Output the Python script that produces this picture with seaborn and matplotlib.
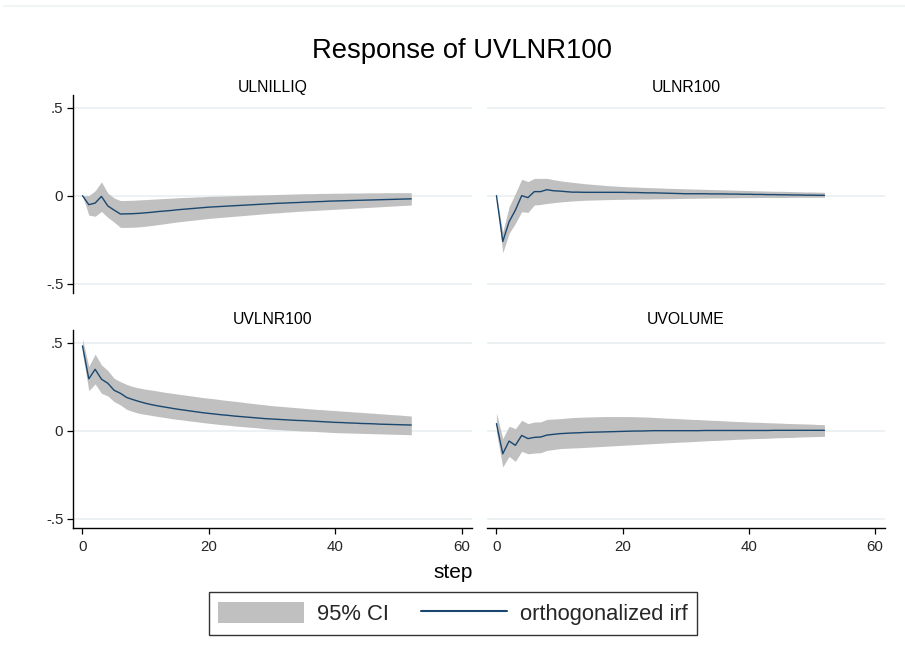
import numpy as np
import pandas as pd
import matplotlib
matplotlib.use("Agg")
import matplotlib.pyplot as plt
from matplotlib.patches import Patch
from matplotlib.lines import Line2D
import seaborn as sns

# ---- data: orthogonalized impulse responses of UVLNR100, steps 0..52 ----
steps = list(range(53))
impulses = ["ULNILLIQ", "ULNR100", "UVLNR100", "UVOLUME"]

irf_ulnilliq = [0.000, -0.051, -0.042, -0.004, -0.058, -0.082, -0.104, -0.103, -0.102, -0.100,
                -0.097, -0.094, -0.090, -0.087, -0.084, -0.080, -0.077, -0.074, -0.071, -0.068,
                -0.065, -0.063, -0.061, -0.059, -0.057, -0.055, -0.053, -0.051, -0.049, -0.047,
                -0.045, -0.043, -0.042, -0.040, -0.039, -0.037, -0.036, -0.034, -0.033, -0.031,
                -0.030, -0.029, -0.028, -0.027, -0.026, -0.025, -0.024, -0.023, -0.022, -0.021,
                -0.020, -0.019, -0.018]
hi_ulnilliq = [0.000, 0.000, 0.028, 0.078, 0.015, -0.013, -0.028, -0.027, -0.026, -0.024,
               -0.022, -0.020, -0.018, -0.016, -0.014, -0.012, -0.010, -0.009, -0.007, -0.006,
               -0.004, -0.003, -0.002, -0.001, 0.000, 0.001, 0.002, 0.003, 0.004, 0.005,
               0.006, 0.007, 0.008, 0.009, 0.010, 0.011, 0.011, 0.012, 0.013, 0.013,
               0.014, 0.014, 0.015, 0.015, 0.015, 0.016, 0.016, 0.016, 0.017, 0.017,
               0.017, 0.017, 0.017]
lo_ulnilliq = [0.000, -0.110, -0.117, -0.089, -0.123, -0.150, -0.180, -0.180, -0.179, -0.177,
               -0.173, -0.169, -0.164, -0.159, -0.154, -0.149, -0.145, -0.141, -0.137, -0.133,
               -0.129, -0.126, -0.123, -0.120, -0.117, -0.114, -0.111, -0.108, -0.105, -0.102,
               -0.099, -0.097, -0.094, -0.092, -0.089, -0.087, -0.085, -0.083, -0.081, -0.079,
               -0.077, -0.075, -0.073, -0.071, -0.069, -0.067, -0.065, -0.063, -0.061, -0.059,
               -0.057, -0.055, -0.053]

irf_ulnr100 = [0.000, -0.260, -0.148, -0.082, 0.000, -0.011, 0.023, 0.023, 0.034, 0.028,
               0.026, 0.023, 0.020, 0.020, 0.019, 0.019, 0.019, 0.019, 0.019, 0.019,
               0.019, 0.018, 0.018, 0.017, 0.016, 0.016, 0.015, 0.014, 0.013, 0.012,
               0.011, 0.011, 0.011, 0.011, 0.010, 0.010, 0.010, 0.009, 0.009, 0.008,
               0.008, 0.007, 0.007, 0.006, 0.006, 0.005, 0.005, 0.004, 0.004, 0.003,
               0.003, 0.002, 0.002]
hi_ulnr100 = [0.000, -0.205, -0.063, 0.013, 0.093, 0.080, 0.098, 0.098, 0.098, 0.091,
              0.085, 0.080, 0.076, 0.072, 0.068, 0.065, 0.062, 0.059, 0.056, 0.054,
              0.052, 0.050, 0.049, 0.047, 0.046, 0.045, 0.044, 0.042, 0.041, 0.040,
              0.039, 0.038, 0.037, 0.036, 0.035, 0.034, 0.033, 0.032, 0.031, 0.030,
              0.029, 0.028, 0.027, 0.026, 0.025, 0.025, 0.024, 0.023, 0.022, 0.021,
              0.021, 0.020, 0.019]
lo_ulnr100 = [0.000, -0.324, -0.214, -0.157, -0.091, -0.095, -0.053, -0.050, -0.044, -0.040,
              -0.036, -0.033, -0.030, -0.028, -0.026, -0.025, -0.024, -0.023, -0.022, -0.021,
              -0.021, -0.020, -0.020, -0.019, -0.019, -0.018, -0.018, -0.017, -0.017, -0.016,
              -0.015, -0.015, -0.014, -0.014, -0.013, -0.013, -0.013, -0.012, -0.012, -0.011,
              -0.011, -0.011, -0.010, -0.010, -0.010, -0.010, -0.010, -0.009, -0.009, -0.009,
              -0.009, -0.009, -0.009]

irf_uvlnr100 = [0.481, 0.294, 0.348, 0.292, 0.269, 0.229, 0.212, 0.188, 0.176, 0.165,
                0.155, 0.147, 0.140, 0.134, 0.128, 0.122, 0.117, 0.112, 0.107, 0.102,
                0.098, 0.094, 0.090, 0.087, 0.083, 0.080, 0.077, 0.074, 0.071, 0.068,
                0.066, 0.064, 0.062, 0.060, 0.058, 0.057, 0.055, 0.053, 0.051, 0.049,
                0.047, 0.046, 0.044, 0.043, 0.041, 0.040, 0.039, 0.037, 0.036, 0.035,
                0.034, 0.033, 0.032]
hi_uvlnr100 = [0.521, 0.364, 0.434, 0.373, 0.341, 0.297, 0.278, 0.262, 0.250, 0.242,
               0.235, 0.230, 0.224, 0.218, 0.213, 0.208, 0.203, 0.198, 0.193, 0.188,
               0.184, 0.180, 0.175, 0.171, 0.167, 0.163, 0.158, 0.154, 0.150, 0.146,
               0.142, 0.139, 0.136, 0.133, 0.130, 0.127, 0.124, 0.121, 0.119, 0.116,
               0.114, 0.111, 0.109, 0.106, 0.104, 0.101, 0.099, 0.096, 0.094, 0.091,
               0.089, 0.086, 0.083]
lo_uvlnr100 = [0.441, 0.227, 0.265, 0.212, 0.197, 0.165, 0.146, 0.121, 0.108, 0.098,
               0.092, 0.086, 0.080, 0.075, 0.069, 0.064, 0.060, 0.055, 0.051, 0.046,
               0.042, 0.038, 0.034, 0.031, 0.027, 0.024, 0.021, 0.018, 0.015, 0.011,
               0.008, 0.006, 0.004, 0.002, 0.000, -0.002, -0.003, -0.005, -0.007, -0.009,
               -0.011, -0.012, -0.013, -0.014, -0.015, -0.016, -0.017, -0.018, -0.019, -0.020,
               -0.021, -0.022, -0.023]

irf_uvolume = [0.040, -0.131, -0.059, -0.083, -0.027, -0.045, -0.038, -0.036, -0.025, -0.021,
               -0.017, -0.015, -0.013, -0.012, -0.010, -0.009, -0.008, -0.007, -0.006, -0.005,
               -0.004, -0.003, -0.002, -0.002, -0.001, 0.000, 0.000, 0.000, 0.000, 0.000,
               0.000, 0.000, 0.000, 0.001, 0.001, 0.001, 0.001, 0.001, 0.001, 0.001,
               0.001, 0.001, 0.001, 0.001, 0.002, 0.002, 0.002, 0.002, 0.002, 0.002,
               0.002, 0.002, 0.002]
hi_uvolume = [0.100, -0.045, 0.025, 0.011, 0.059, 0.040, 0.049, 0.050, 0.064, 0.066,
              0.068, 0.071, 0.074, 0.076, 0.077, 0.078, 0.079, 0.080, 0.080, 0.080,
              0.080, 0.080, 0.079, 0.078, 0.077, 0.075, 0.073, 0.071, 0.070, 0.068,
              0.066, 0.064, 0.063, 0.061, 0.059, 0.058, 0.056, 0.054, 0.052, 0.051,
              0.049, 0.048, 0.047, 0.045, 0.044, 0.043, 0.041, 0.040, 0.039, 0.038,
              0.037, 0.035, 0.034]
lo_uvolume = [-0.010, -0.206, -0.146, -0.174, -0.117, -0.131, -0.127, -0.125, -0.112, -0.107,
              -0.102, -0.100, -0.098, -0.097, -0.095, -0.093, -0.091, -0.089, -0.087, -0.085,
              -0.083, -0.081, -0.079, -0.077, -0.075, -0.073, -0.071, -0.069, -0.067, -0.065,
              -0.064, -0.062, -0.060, -0.058, -0.056, -0.055, -0.053, -0.051, -0.049, -0.048,
              -0.046, -0.045, -0.044, -0.043, -0.041, -0.040, -0.039, -0.038, -0.036, -0.035,
              -0.034, -0.033, -0.032]

x_ticks = [0, 20, 40, 60]
y_ticks = [-0.5, 0.0, 0.5]
y_tick_labels = ["-.5", "0", ".5"]

series = {
    "ULNILLIQ": (irf_ulnilliq, lo_ulnilliq, hi_ulnilliq),
    "ULNR100": (irf_ulnr100, lo_ulnr100, hi_ulnr100),
    "UVLNR100": (irf_uvlnr100, lo_uvlnr100, hi_uvlnr100),
    "UVOLUME": (irf_uvolume, lo_uvolume, hi_uvolume),
}

frames = []
for name in impulses:
    irf, lo, hi = series[name]
    frames.append(pd.DataFrame({"step": steps, "irf": irf, "lo": lo, "hi": hi, "impulse": name}))
df = pd.concat(frames, ignore_index=True)

# ---- style ----
sns.set_style("white")
plt.rcParams["font.family"] = ["Liberation Sans", "DejaVu Sans"]

LINE_COLOR = "#1a476f"
CI_COLOR = "#c0c0c0"
GRID_COLOR = "#eaf1f2"

W, H = 905, 664
fig = plt.figure(figsize=(W / 100, H / 100), dpi=100)
fig.patch.set_facecolor("white")


def px_axes(left, top, right, bottom):
    return fig.add_axes([left / W, 1 - bottom / H, (right - left) / W, (bottom - top) / H])


boxes = {
    "ULNILLIQ": (73, 95, 472, 293),
    "ULNR100": (487, 95, 885, 293),
    "UVLNR100": (73, 330, 472, 528),
    "UVOLUME": (487, 330, 885, 528),
}
title_base = {"ULNILLIQ": 92, "ULNR100": 92, "UVLNR100": 324, "UVOLUME": 324}

for name in impulses:
    l, t, r, b = boxes[name]
    ax = px_axes(l, t, r, b)
    sub = df[df["impulse"] == name]
    ax.fill_between(sub["step"], sub["lo"], sub["hi"], color=CI_COLOR, linewidth=0, zorder=2)
    sns.lineplot(data=sub, x="step", y="irf", ax=ax, color=LINE_COLOR, linewidth=1.0,
                 estimator=None, zorder=3)
    ax.set_xlim(-1.5, 61.6)
    ax.set_ylim(-0.552, 0.571)
    for yv in y_ticks:
        ax.axhline(yv, color=GRID_COLOR, linewidth=1.3, zorder=1)
    ax.set_xlabel("")
    ax.set_ylabel("")
    for side in ["top", "right", "left", "bottom"]:
        ax.spines[side].set_visible(False)

    is_left = l < 100
    is_bottom = b > 400
    if is_left:
        ax.spines["left"].set_visible(True)
        ax.spines["left"].set_color("black")
        ax.spines["left"].set_linewidth(1.0)
        ax.set_yticks(y_ticks)
        ax.set_yticklabels(y_tick_labels)
        ax.tick_params(axis="y", length=4.5, width=0.9, color="black", pad=2.5,
                       labelsize=10.8, left=True)
    else:
        ax.set_yticks([])
    if is_bottom:
        ax.spines["bottom"].set_visible(True)
        ax.spines["bottom"].set_color("black")
        ax.spines["bottom"].set_linewidth(1.0)
        ax.set_xticks(x_ticks)
        ax.set_xticklabels([str(v) for v in x_ticks])
        ax.tick_params(axis="x", length=4.5, width=0.9, color="black", pad=4,
                       labelsize=10.8, bottom=True)
    else:
        ax.set_xticks([])

    fig.text((l + r) / 2 / W, 1 - title_base[name] / H, name, ha="center", va="baseline",
             fontsize=11.3, color="black")

# overall title and shared axis label
fig.text(462 / W, 1 - 57.5 / H, "Response of UVLNR100", ha="center", va="baseline",
         fontsize=19.7, color="black")
fig.text(453 / W, 1 - 578 / H, "step", ha="center", va="baseline", fontsize=15, color="black")

# faint rule along the top edge
fig.add_artist(Line2D([4 / W, 1.0], [1 - 6 / H, 1 - 6 / H], color="#edf2f2", linewidth=1.2))

handles = [Patch(facecolor=CI_COLOR, edgecolor="none"),
           Line2D([0], [0], color=LINE_COLOR, linewidth=1.5)]
leg = fig.legend(handles, ["95% CI", "orthogonalized irf"], loc="center",
                 bbox_to_anchor=(453 / W, 1 - 613.5 / H), ncol=2, fontsize=15.8,
                 frameon=True, fancybox=False, handlelength=3.9, handleheight=1.1,
                 handletextpad=0.6, columnspacing=1.45, borderpad=0.45)
leg.get_frame().set_edgecolor("black")
leg.get_frame().set_linewidth(1.0)

fig.savefig("out.png", dpi=100, facecolor="white")
